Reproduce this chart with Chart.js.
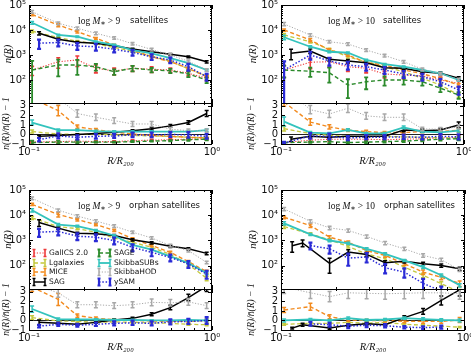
<!DOCTYPE html>
<html>
<head>
<meta charset="utf-8">
<title>n(R) of satellites</title>
<script src="https://cdn.jsdelivr.net/npm/chart.js@4.4.0/dist/chart.umd.min.js"></script>
<style>
body { margin: 0; background: #fff; }
#fig { position: relative; width: 471px; height: 354px; overflow: hidden; background: #fff; }
#fig canvas { position: absolute; }
</style>
</head>
<body>
<div id="fig"></div>
<script>
const models = ['GalICS 2.0', 'Lgalaxies', 'MICE', 'SAG', 'SAGE', 'SkibbaSUBs', 'SkibbaHOD', 'ySAM'];
const colors = ['#ee3b3b', '#c4c83c', '#f28a1e', '#000000', '#2b8a2b', '#33c3bd', '#a8a8a8', '#2a2ad6'];
const dashes = [[1.2, 1.6], [4, 2.5], [4, 2.5], [], [4, 2.5], [], [1.2, 1.6], [1.5, 1.8]];
const lineWidths = [1.1, 1.3, 1.4, 1.5, 1.4, 1.8, 1, 1.5];
const barWidths = [1.6, 1.5, 1.5, 1.5, 1.8, 1.5, 1.5, 2.2];

// radial bins R/R200
const rBins = [0.1135, 0.1445, 0.1837, 0.232, 0.292, 0.368, 0.468, 0.592, 0.743, 0.935];
const rBinsIn = [0.104, 0.1445, 0.1837, 0.232, 0.292, 0.368, 0.468, 0.592, 0.743, 0.935];
const rSagOrph10 = [0.115, 0.131, 0.1837, 0.232, 0.292, 0.368, 0.468, 0.592, 0.743, 0.935];

// satellites, log M* > 9
const sat9R = [rBinsIn, rBinsIn, rBinsIn, rBins, rBinsIn, rBinsIn, rBinsIn, rBins];
const sat9N = [
    [251, 537, 631, 295, 229, 295, 269, 251, 186, 117],
    [8910, 5010, 3550, 2820, 2000, 1410, 891, 562, 282, 141],
    [41700, 15800, 8510, 4680, 2510, 1580, 851, 537, 295, 135],
    [7410, 4270, 3240, 2950, 2340, 1740, 1350, 1070, 851, 537],
    [251, 398, 398, 339, 214, 295, 251, 234, 174, 100],
    [19500, 6310, 5370, 3390, 2510, 1580, 1170, 741, 468, 251],
    [53700, 18600, 11700, 7410, 4790, 2820, 1660, 1000, 562, 251],
    [2950, 3160, 2290, 2140, 1700, 1260, 851, 631, 339, 135]
];
const sat9Err = [
    [0.4, 0.45, 0.45, 0.35, 0.3, 0.25, 0.25, 0.2, 0.2, 0.2],
    [0.12, 0.08, 0.08, 0.08, 0.08, 0.08, 0.08, 0.08, 0.1, 0.1],
    [0.1, 0.15, 0.1, 0.08, 0.08, 0.08, 0.08, 0.08, 0.1, 0.1],
    [0.15, 0.1, 0.08, 0.08, 0.08, 0.08, 0.08, 0.08, 0.08, 0.1],
    [1.3, 0.65, 0.6, 0.3, 0.25, 0.25, 0.2, 0.2, 0.25, 0.25],
    [0.12, 0.08, 0.06, 0.06, 0.06, 0.06, 0.06, 0.06, 0.08, 0.08],
    [0.12, 0.12, 0.12, 0.12, 0.12, 0.12, 0.12, 0.12, 0.12, 0.12],
    [0.4, 0.3, 0.3, 0.3, 0.25, 0.25, 0.25, 0.25, 0.3, 0.3]
];
const sat9Res = [
    [-0.8, -0.75, -0.7, -0.75, -0.75, -0.65, -0.6, -0.55, -0.5, -0.45],
    [0.3, 0.05, 0.0, 0.05, -0.05, -0.1, -0.15, -0.2, -0.3, -0.35],
    [3.8, 2.5, 0.8, 0.5, 0.25, 0.05, -0.1, -0.2, -0.3, -0.35],
    [-0.2, -0.1, 0.0, 0.1, 0.22, 0.38, 0.6, 0.9, 1.25, 2.2],
    [-0.85, -0.8, -0.8, -0.8, -0.8, -0.75, -0.7, -0.65, -0.55, -0.5],
    [1.25, 0.45, 0.45, 0.35, 0.3, 0.3, 0.3, 0.3, 0.3, 0.45],
    [5.5, 3.8, 2.2, 1.8, 1.45, 1.1, 1.1, 0.55, 0.4, 0.4],
    [-0.55, -0.15, -0.3, -0.2, -0.15, -0.05, -0.05, 0.0, -0.05, -0.2]
];

// satellites, log M* > 10
const sat10R = [rBinsIn, rBinsIn, rBinsIn, rBins, rBinsIn, rBinsIn, rBinsIn, rBinsIn];
const sat10N = [
    [251, 513, 537, 339, 295, 174, 158, 145, 100, 74],
    [6310, 3390, 1700, 851, 537, 339, 214, 117, 63, 25],
    [10000, 3980, 1580, 1000, 501, 398, 251, 178, 112, 63],
    [1170, 1450, 676, 575, 490, 309, 295, 214, 186, 117],
    [251, 224, 195, 63, 85, 100, 100, 85, 47, 25],
    [5130, 2140, 1350, 1230, 631, 427, 339, 251, 186, 100],
    [17400, 6310, 3390, 2750, 1580, 955, 537, 269, 178, 105],
    [251, 1000, 575, 398, 339, 251, 174, 135, 85, 40]
];
const sat10Err = [
    [0.5, 0.45, 0.4, 0.35, 0.35, 0.3, 0.3, 0.3, 0.3, 0.3],
    [0.15, 0.1, 0.1, 0.1, 0.1, 0.1, 0.1, 0.12, 0.15, 0.2],
    [0.1, 0.15, 0.12, 0.1, 0.1, 0.1, 0.1, 0.1, 0.12, 0.15],
    [0.45, 0.2, 0.15, 0.15, 0.15, 0.12, 0.12, 0.12, 0.12, 0.15],
    [0.5, 0.4, 0.6, 0.7, 0.5, 0.4, 0.35, 0.3, 0.3, 0.3],
    [0.2, 0.1, 0.08, 0.08, 0.08, 0.08, 0.08, 0.08, 0.1, 0.1],
    [0.15, 0.12, 0.12, 0.12, 0.12, 0.12, 0.12, 0.12, 0.12, 0.12],
    [1.2, 0.35, 0.35, 0.35, 0.3, 0.3, 0.3, 0.3, 0.3, 0.35]
];
const sat10Res = [
    [-0.85, -0.6, -0.5, -0.5, -0.5, -0.55, -0.5, -0.45, -0.35, -0.3],
    [0.6, 0.1, -0.1, -0.2, -0.25, -0.2, -0.25, -0.3, -0.35, -0.4],
    [3.4, 1.3, 0.8, 0.45, 0.3, 0.2, 0.2, 0.3, 0.3, 0.45],
    [-0.5, -0.2, -0.3, -0.2, -0.2, -0.2, 0.47, 0.4, 0.47, 1.0],
    [-0.85, -0.8, -0.75, -0.85, -0.8, -0.75, -0.7, -0.6, -0.5, -0.45],
    [1.35, 0.2, 0.12, 0.47, 0.12, 0.12, 0.75, 0.3, 0.23, 0.4],
    [5.0, 2.6, 2.15, 2.75, 1.95, 1.8, 1.8, 0.58, 0.55, 0.8],
    [-0.9, -0.15, -0.2, -0.38, -0.28, -0.28, -0.25, -0.3, -0.2, -0.25]
];

// orphan satellites, log M* > 9
const orph9R = [rBinsIn, rBinsIn, rBinsIn, rBins, rBinsIn, rBinsIn, rBinsIn, rBins];
const orph9N = [
    [],
    [7940, 3550, 2950, 2140, 1260, 851, 537, 282, 112, 32],
    [26900, 10700, 6760, 4270, 2510, 1170, 631, 339, 145, 58],
    [5130, 3090, 1950, 1860, 1580, 1070, 813, 589, 468, 309],
    [],
    [15800, 4270, 3720, 2510, 1580, 676, 437, 234, 129, 51],
    [46800, 15800, 9330, 5890, 3720, 2140, 1260, 631, 398, 135],
    [2140, 2290, 1480, 1350, 1000, 537, 339, 214, 117, 47]
];
const orph9Err = [
    [],
    [0.15, 0.1, 0.1, 0.1, 0.1, 0.1, 0.1, 0.12, 0.15, 0.2],
    [0.1, 0.2, 0.12, 0.1, 0.1, 0.1, 0.1, 0.1, 0.12, 0.15],
    [0.3, 0.12, 0.1, 0.1, 0.1, 0.1, 0.1, 0.1, 0.1, 0.12],
    [],
    [0.15, 0.1, 0.08, 0.08, 0.08, 0.08, 0.08, 0.08, 0.1, 0.12],
    [0.12, 0.12, 0.12, 0.12, 0.12, 0.12, 0.12, 0.12, 0.12, 0.12],
    [0.35, 0.3, 0.3, 0.3, 0.3, 0.3, 0.3, 0.3, 0.3, 0.35]
];
const orph9Res = [
    [],
    [0.3, -0.05, -0.1, -0.2, -0.15, -0.2, -0.25, -0.3, -0.4, -0.45],
    [3.5, 2.2, 0.5, 0.25, 0.07, 0.0, -0.05, -0.1, -0.1, 0.0],
    [-0.2, -0.3, -0.4, -0.2, 0.05, 0.22, 0.65, 1.35, 2.4, 3.6],
    [],
    [1.2, 0.15, 0.1, 0.1, 0.05, 0.05, 0.0, 0.0, 0.05, 0.0],
    [3.8, 2.9, 1.65, 1.65, 1.55, 1.65, 1.9, 1.85, 1.95, 1.55],
    [-0.6, -0.4, -0.5, -0.4, -0.3, -0.25, -0.3, -0.15, -0.1, 0.0]
];

// orphan satellites, log M* > 10
const orph10R = [rBinsIn, rBinsIn, rBinsIn, rSagOrph10, rBinsIn, rBinsIn, rBinsIn, rBinsIn];
const orph10N = [
    [],
    [3550, 1820, 1070, 575, 295, 191, 89, 42, 19.5, 9.1],
    [8320, 3890, 1350, 851, 398, 257, 120, 56, 35, 20],
    [620, 800, 125, 347, 282, 132, 151, 120, 102, 76],
    [],
    [4790, 1740, 1000, 776, 468, 295, 162, 89, 42, 17],
    [17800, 5750, 3160, 2510, 1450, 794, 468, 257, 174, 69],
    [null, 631, 468, 200, 224, 83, 56, 20, 10, null]
];
const orph10Err = [
    [],
    [0.15, 0.12, 0.12, 0.12, 0.12, 0.15, 0.15, 0.2, 0.2, 0.25],
    [0.12, 0.15, 0.15, 0.12, 0.12, 0.15, 0.15, 0.2, 0.2, 0.25],
    [0.45, 0.3, 0.6, 0.25, 0.2, 0.2, 0.15, 0.15, 0.15, 0.15],
    [],
    [0.15, 0.1, 0.1, 0.1, 0.1, 0.1, 0.1, 0.12, 0.12, 0.15],
    [0.15, 0.15, 0.15, 0.15, 0.15, 0.15, 0.15, 0.15, 0.15, 0.15],
    [0, 0.3, 0.35, 0.5, 0.4, 0.4, 0.4, 0.5, 0.5, 0]
];
const orph10Res = [
    [],
    [-0.4, -0.3, -0.3, -0.2, -0.3, -0.2, -0.4, -0.5, -0.6, -0.7],
    [1.1, 1.45, 0.4, 0.05, 0.0, 0.0, -0.1, -0.1, -0.1, 0.05],
    [-0.8, -0.45, -0.8, -0.5, -0.35, -0.45, 0.3, 0.95, 2.1, 3.2],
    [],
    [0.0, 0.1, 0.0, 0.25, 0.05, 0.1, 0.25, 0.15, 0.05, 0.0],
    [3.5, 2.9, 2.5, 2.9, 2.85, 2.8, 2.85, 2.9, 2.9, 2.8],
    [null, -0.35, -0.45, -0.6, -0.5, -0.55, -0.7, -0.75, -0.7, -0.6]
];

const mainTicks = [1e2, 1e3, 1e4, 1e5];
const resTicks = [-1, 0, 1, 2, 3];
const xTicks = [0.1, 1];

const panels = [
    { R: sat9R, N: sat9N, E: sat9Err, S: sat9Res, mass: '9', kind: 'satellites', dx: 49, dx2: 101,
      legend: false, left: 29, right: 212, top: 5, mid: 103, bottom: 144, axisW: 29 },
    { R: sat10R, N: sat10N, E: sat10Err, S: sat10Res, mass: '10', kind: 'satellites', dx: 47, dx2: 102,
      legend: false, left: 281, right: 464, top: 5, mid: 103, bottom: 144, axisW: 36 },
    { R: orph9R, N: orph9N, E: orph9Err, S: orph9Res, mass: '9', kind: 'orphan satellites', dx: 49, dx2: 100,
      legend: true, left: 29, right: 212, top: 190, mid: 289, bottom: 330, axisW: 29 },
    { R: orph10R, N: orph10N, E: orph10Err, S: orph10Res, mass: '10', kind: 'orphan satellites', dx: 47, dx2: 103,
      legend: false, left: 281, right: 465, top: 190, mid: 289, bottom: 330, axisW: 36 }
];

const SUP = { '-': '\u207b', '0': '\u2070', '1': '\u00b9', '2': '\u00b2', '3': '\u00b3', '4': '\u2074', '5': '\u2075' };
function powLabel(v) {
    const p = String(Math.round(Math.log10(v)));
    return '10' + p.split('').map(c => SUP[c]).join('');
}

const fig = document.getElementById('fig');
function addCanvas(x, y, w, h) {
    const c = document.createElement('canvas');
    c.width = w; c.height = h;
    c.style.left = x + 'px'; c.style.top = y + 'px';
    c.style.width = w + 'px'; c.style.height = h + 'px';
    fig.appendChild(c);
    return c;
}

// vertical error bars with caps, drawn through the chart's own scales
const errorBars = {
    id: 'errorBars',
    afterDatasetDraw(chart, args) {
        const ds = chart.data.datasets[args.index];
        if (!ds.bars) return;
        const { ctx, chartArea: a } = chart;
        const xs = chart.scales.x, ys = chart.scales.y;
        ctx.save();
        ctx.beginPath();
        ctx.rect(a.left, a.top, a.right - a.left, a.bottom - a.top);
        ctx.clip();
        ctx.strokeStyle = ds.borderColor;
        ctx.lineWidth = ds.barWidth;
        ctx.setLineDash([]);
        ctx.beginPath();
        ds.data.forEach((p, k) => {
            const lo = ds.bars[k][0], hi = ds.bars[k][1];
            if (hi === lo) return;
            const px = xs.getPixelForValue(p.x);
            const pt = ys.getPixelForValue(hi);
            const pb = (ys.type === 'logarithmic' && lo <= 0) ? a.bottom + 10 : ys.getPixelForValue(lo);
            ctx.moveTo(px, pt); ctx.lineTo(px, pb);
            ctx.moveTo(px - 2, pt); ctx.lineTo(px + 2, pt);
            ctx.moveTo(px - 2, pb); ctx.lineTo(px + 2, pb);
        });
        ctx.stroke();
        ctx.restore();
    }
};

// matplotlib-like frame with inward ticks on all sides, and the zero line
const frameTicks = {
    id: 'frameTicks',
    beforeDatasetsDraw(chart, args, o) {
        if (!o.zero) return;
        const { ctx, chartArea: a } = chart;
        const py = Math.round(chart.scales.y.getPixelForValue(0)) + 0.5;
        ctx.save();
        ctx.strokeStyle = '#222';
        ctx.lineWidth = 1;
        ctx.beginPath(); ctx.moveTo(a.left, py); ctx.lineTo(a.right, py); ctx.stroke();
        ctx.restore();
    },
    afterDraw(chart, args, o) {
        const { ctx, chartArea: a } = chart;
        const xs = chart.scales.x, ys = chart.scales.y;
        ctx.save();
        ctx.strokeStyle = '#000';
        ctx.lineWidth = 1;
        ctx.beginPath();
        const vt = (v, len) => {
            const px = Math.round(xs.getPixelForValue(v)) + 0.5;
            ctx.moveTo(px, a.bottom); ctx.lineTo(px, a.bottom - len);
            ctx.moveTo(px, a.top); ctx.lineTo(px, a.top + len);
        };
        const ht = (v, len) => {
            if (v < ys.min || v > ys.max) return;
            const py = Math.round(ys.getPixelForValue(v)) + 0.5;
            ctx.moveTo(a.left, py); ctx.lineTo(a.left + len, py);
            ctx.moveTo(a.right, py); ctx.lineTo(a.right - len, py);
        };
        xTicks.forEach(v => vt(v, 4));
        for (let m = 2; m <= 9; m++) vt(m / 10, 2);
        o.yMajor.forEach(v => ht(v, 4));
        (o.yMinor || []).forEach(v => ht(v, 2));
        ctx.stroke();
        ctx.strokeRect(a.left + 0.5, a.top + 0.5, a.right - a.left - 1, a.bottom - a.top);
        ctx.restore();
    }
};

// "log M* > 9   satellites"
const panelTag = {
    id: 'panelTag',
    afterDraw(chart, args, o) {
        if (!o.text) return;
        const { ctx, chartArea: a } = chart;
        const y = a.top + 16;
        let x = a.left + o.dx;
        ctx.save();
        ctx.fillStyle = '#111';
        ctx.textBaseline = 'middle';
        const piece = (t, font, dy) => {
            ctx.font = font;
            ctx.fillText(t, x, y + (dy || 0));
            x += ctx.measureText(t).width;
        };
        piece('log ', '9.5px "Liberation Serif"');
        piece('M', 'italic 9.5px "Liberation Serif"');
        piece('\u2217', '6px "DejaVu Sans"', 2);
        piece(' > ' + o.mass, '9.5px "Liberation Serif"');
        ctx.font = '8.5px "DejaVu Sans"';
        ctx.fillText(o.text, a.left + o.dx2, y);
        ctx.restore();
    }
};

// two-column legend with errorbar handles
const boxLegend = {
    id: 'boxLegend',
    afterDraw(chart, args, o) {
        if (!o.show) return;
        const { ctx, chartArea: a } = chart;
        const colX = [5, 70], rowY = [63, 73, 82, 92];
        ctx.save();
        ctx.textBaseline = 'middle';
        chart.data.datasets.forEach((ds, i) => {
            const x0 = a.left + colX[Math.floor(i / 4)];
            const y = a.top + rowY[i % 4];
            ctx.strokeStyle = ds.borderColor;
            ctx.lineWidth = ds.borderWidth;
            ctx.setLineDash(ds.borderDash);
            ctx.beginPath(); ctx.moveTo(x0, y); ctx.lineTo(x0 + 11, y); ctx.stroke();
            ctx.setLineDash([]);
            ctx.lineWidth = ds.barWidth;
            ctx.beginPath();
            [x0, x0 + 11].forEach(bx => {
                ctx.moveTo(bx, y - 3.5); ctx.lineTo(bx, y + 3.5);
                ctx.moveTo(bx - 1.5, y - 3.5); ctx.lineTo(bx + 1.5, y - 3.5);
                ctx.moveTo(bx - 1.5, y + 3.5); ctx.lineTo(bx + 1.5, y + 3.5);
            });
            ctx.stroke();
            ctx.fillStyle = '#111';
            ctx.font = '7.5px "DejaVu Sans"';
            ctx.fillText(ds.label, x0 + 15, y + 0.5);
        });
        ctx.restore();
    }
};

function buildSets(p, residual) {
    return models.map((name, i) => {
        const pts = [], bars = [];
        p.N[i].forEach((n, k) => {
            if (n === null) return;
            const e = p.E[i][k];
            if (residual) {
                const r = p.S[i][k];
                const d = (1 + r) * e;
                pts.push({ x: p.R[i][k], y: r });
                bars.push([r - d, r + d]);
            } else {
                pts.push({ x: p.R[i][k], y: n });
                bars.push([n * (1 - e), n * (1 + e)]);
            }
        });
        return {
            label: name,
            data: pts,
            bars: bars,
            borderColor: colors[i],
            backgroundColor: colors[i],
            borderWidth: lineWidths[i],
            borderDash: dashes[i],
            barWidth: barWidths[i],
            pointRadius: 0,
            fill: false,
            tension: 0,
            clip: 0,
            order: models.length - i
        };
    });
}

const tickFont = { family: 'DejaVu Sans', size: 10 };
const titleFont = { family: 'Liberation Serif', style: 'italic', size: 10.5 };

function mainMinors() {
    const out = [];
    for (let d = 1; d <= 4; d++) for (let m = 2; m <= 9; m++) out.push(m * Math.pow(10, d));
    return out;
}

panels.forEach(p => {
    const w = p.axisW + (p.right - p.left) + 14;

    // upper panel: n(R)
    const c1 = addCanvas(p.left - p.axisW, p.top - 10, w, 10 + (p.mid - p.top) + 10);
    new Chart(c1, {
        type: 'line',
        data: { datasets: buildSets(p, false) },
        options: {
            responsive: false, animation: false, events: [],
            layout: { padding: { top: 10, bottom: 10, left: 0, right: 14 } },
            plugins: {
                legend: { display: false }, tooltip: { enabled: false },
                frameTicks: { yMajor: mainTicks, yMinor: mainMinors() },
                panelTag: { text: p.kind, mass: p.mass, dx: p.dx, dx2: p.dx2 },
                boxLegend: { show: p.legend }
            },
            scales: {
                x: { type: 'logarithmic', min: 0.1, max: 1, display: false },
                y: {
                    type: 'logarithmic', min: 12, max: 1e5,
                    afterBuildTicks: s => { s.ticks = mainTicks.map(v => ({ value: v })); },
                    afterFit: s => { s.width = p.axisW; },
                    grid: { display: false, drawTicks: false }, border: { display: false },
                    ticks: { callback: v => powLabel(v), font: tickFont, color: '#111', padding: 3, autoSkip: false },
                    title: { display: true, text: 'n(R)', font: titleFont, color: '#111', padding: { top: 2, bottom: 0 } }
                }
            }
        },
        plugins: [errorBars, frameTicks, panelTag, boxLegend]
    });

    // lower panel: n(R)/mean - 1
    const c2 = addCanvas(p.left - p.axisW, p.mid - 10, w, 10 + (p.bottom - p.mid) + 26);
    new Chart(c2, {
        type: 'line',
        data: { datasets: buildSets(p, true) },
        options: {
            responsive: false, animation: false, events: [],
            layout: { padding: { top: 10, bottom: 0, left: 0, right: 14 } },
            plugins: {
                legend: { display: false }, tooltip: { enabled: false },
                frameTicks: { yMajor: resTicks, zero: true }
            },
            scales: {
                x: {
                    type: 'logarithmic', min: 0.1, max: 1,
                    afterBuildTicks: s => { s.ticks = xTicks.map(v => ({ value: v })); },
                    afterFit: s => { s.height = 26; },
                    grid: { display: false, drawTicks: false }, border: { display: false },
                    ticks: { callback: v => powLabel(v), font: tickFont, color: '#111', padding: 2, maxRotation: 0, autoSkip: false },
                    title: { display: true, text: 'R/R\u2082\u2080\u2080', font: titleFont, color: '#111', padding: { top: 0, bottom: 2 } }
                },
                y: {
                    type: 'linear', min: -1, max: 3.3,
                    afterBuildTicks: s => { s.ticks = resTicks.map(v => ({ value: v })); },
                    afterFit: s => { s.width = p.axisW; },
                    grid: { display: false, drawTicks: false }, border: { display: false },
                    ticks: { callback: v => (v < 0 ? '\u2212' + (-v) : String(v)), font: tickFont, color: '#111', padding: 3, autoSkip: false },
                    title: { display: true, text: 'n(R)/n\u0304(R) \u2212 1', font: { family: 'Liberation Serif', style: 'italic', size: 9.5 }, color: '#111', padding: { top: 1, bottom: 0 } }
                }
            }
        },
        plugins: [errorBars, frameTicks]
    });
});
</script>
</body>
</html>
